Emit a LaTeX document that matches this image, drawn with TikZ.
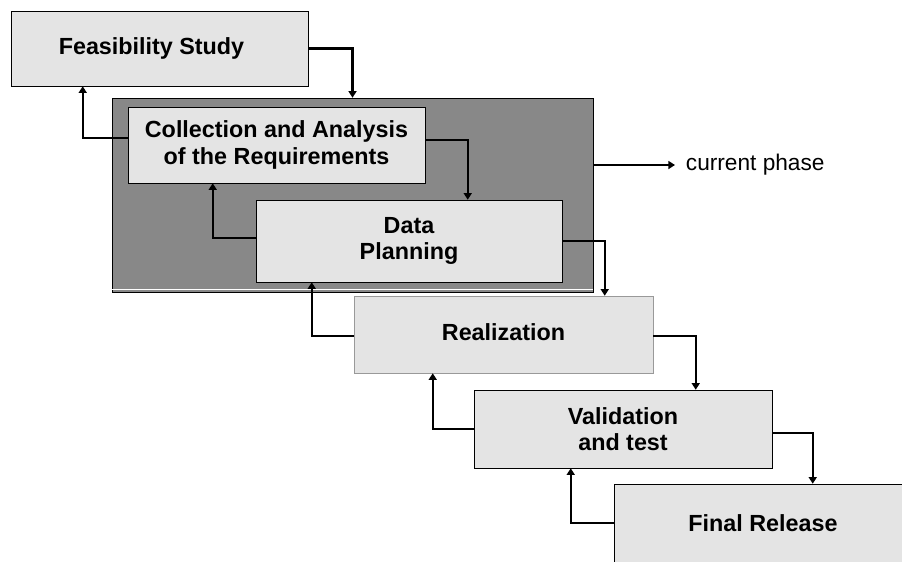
\documentclass[tikz,border=0pt]{standalone}
\usepackage{fontspec}
\setmainfont{Liberation Sans}
\usepackage{xcolor}
\usetikzlibrary{arrows.meta,positioning,calc}
\definecolor{boxgray}{HTML}{E4E4E4}
\definecolor{phasegray}{HTML}{888888}
\definecolor{edgegray}{HTML}{999999}
\begin{document}
\begin{tikzpicture}[
        x=0.75pt, y=-0.75pt,
        phase/.style={draw, fill=boxgray, minimum width=#1, minimum height=57pt, align=center, font=\fontsize{17.5}{20}\selectfont\bfseries, inner sep=0pt},
        flow/.style={-{Triangle[length=5pt,width=6pt]}, line width=1.6pt},
        back/.style={flow}
    ]
        \clip (0,0) rectangle (902,561);

        % Current phase frame
        \node[draw, fill=phasegray, minimum width=360.75pt, minimum height=145.5pt, inner sep=0pt] (current) at (352.5,195) {};
        \draw[white, line width=0.8pt] ([yshift=2pt]current.south west) -- ([yshift=2pt]current.south east);

        % Phases
        \node[phase=222.75pt, minimum height=56.25pt] (feas) at (159.5,48.5) {Feasibility Study\hspace{12pt}};
        \node[phase=222.75pt] (coll) at (276.5,145) {Collection and Analysis\\of the Requirements};
        \node[phase=229.5pt, minimum height=61.5pt] (plan) at (409,241) {Data\\Planning};
        \node[phase=224.25pt, draw=edgegray, minimum height=57.75pt] (real) at (503.5,334.5) {\raisebox{3pt}{Realization}};
        \node[phase=223.5pt, minimum height=58.5pt] (valid) at (623,429) {Validation\\and test};
        \node[phase=223.5pt, minimum height=58.5pt] (final) at (763,523) {Final Release};

        % Label
        \node[anchor=west, inner xsep=8pt, inner ysep=0pt, font=\fontsize{17}{20}\selectfont] (label) at (675,165) {current phase};

        % Forward arrows
        \draw[flow] (feas.east) -| (current.north);
        \draw[flow] ([yshift=3.75pt]coll.east) -| ([xshift=159pt]plan.north west);
        \draw[flow] (plan.east) -| ([xshift=188.25pt]real.north west);
        \draw[flow] ([yshift=-1pt]real.east) -| ([xshift=166.5pt]valid.north west);
        \draw[flow] ([yshift=-3pt]valid.east) -| ([xshift=149.25pt]final.north west);

        % Backward arrows
        \draw[back] ([yshift=5.25pt]coll.west) -| ([xshift=54pt]feas.south west);
        \draw[back] ([yshift=2.25pt]plan.west) -| ([xshift=63.75pt]coll.south west);
        \draw[back] ([yshift=-1pt]real.west) -| ([xshift=42pt]plan.south west);
        \draw[back] (valid.west) -| ([xshift=59.25pt]real.south west);
        \draw[back] (final.west) -| ([xshift=72.75pt]valid.south west);

        % Current phase pointer
        \draw[flow, line width=1.3pt] ([yshift=22.5pt]current.east) -- (label.west);

    \end{tikzpicture}
\end{document}
